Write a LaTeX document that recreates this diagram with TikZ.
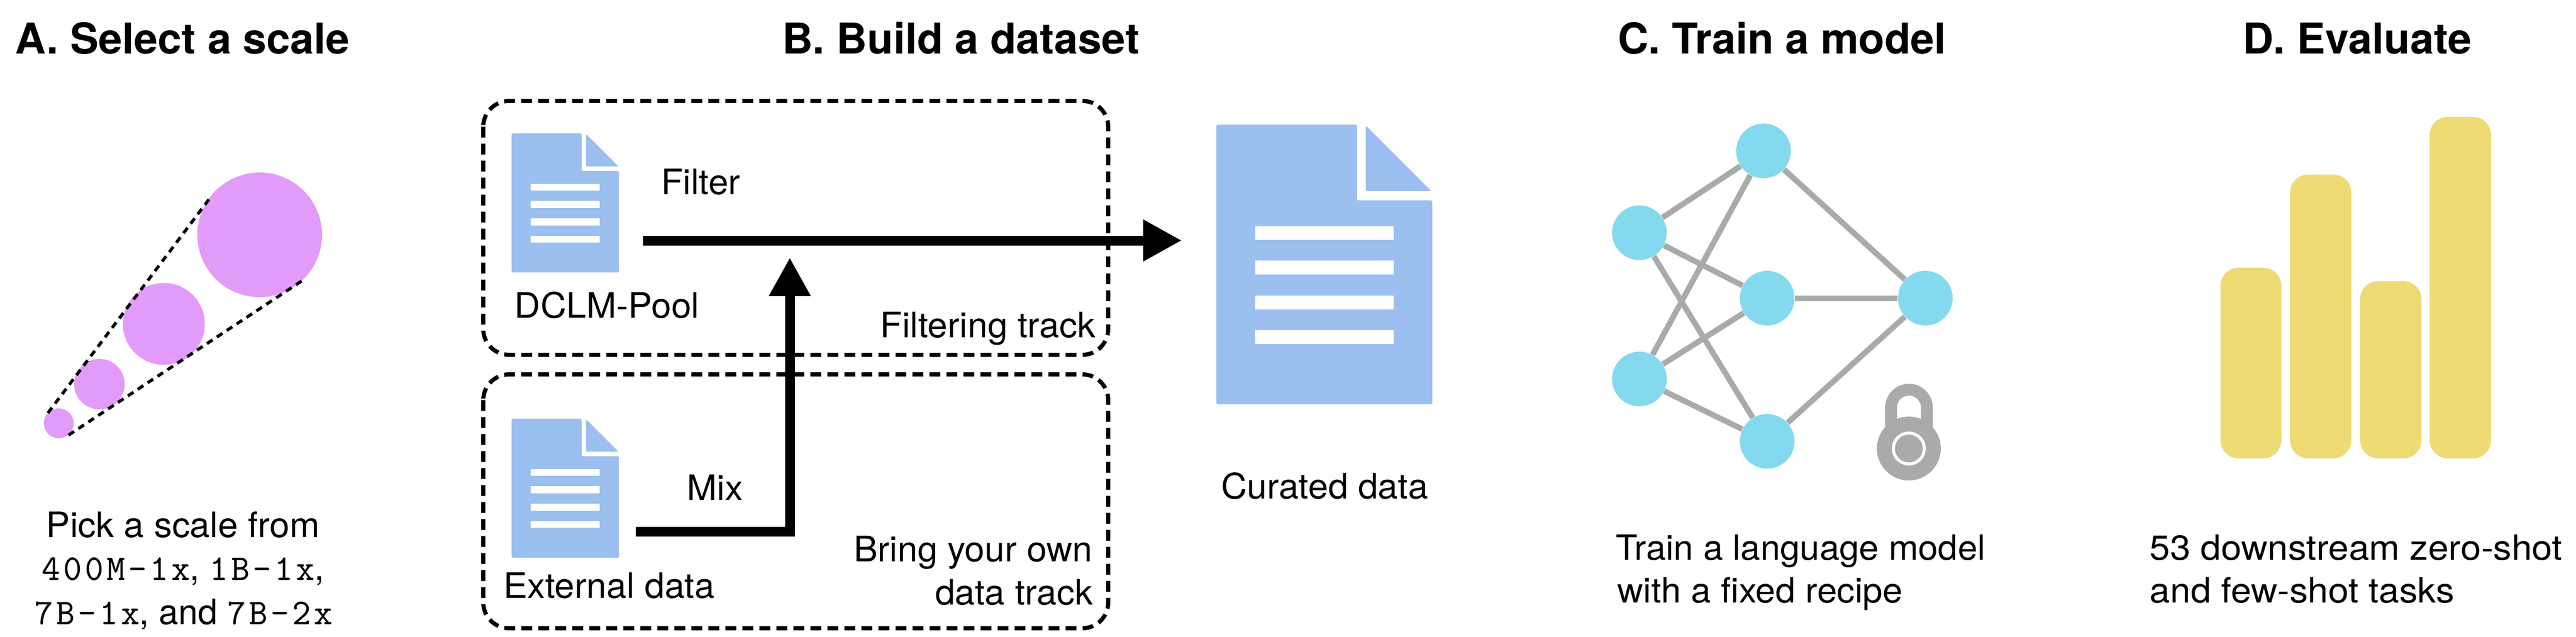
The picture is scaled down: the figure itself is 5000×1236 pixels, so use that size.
\documentclass[tikz,border=0pt]{standalone}
\usepackage{fontspec}
\usetikzlibrary{arrows.meta}
\setmainfont{TeX Gyre Heros}
\newfontfamily\codefont[LetterSpace=8.5,FakeBold=0.25]{Latin Modern Mono}
\definecolor{pinkc}{HTML}{E29BF9}
\definecolor{docc}{HTML}{9BBFEF}
\definecolor{netc}{HTML}{84D9EF}
\definecolor{edgec}{HTML}{AAAAAA}
\definecolor{barc}{HTML}{EEDB74}
\tikzset{
  x=0.01cm,y=-0.01cm,
  title/.style={anchor=base,inner sep=0,font=\fontsize{23.5}{26}\selectfont\bfseries},
  lab/.style={anchor=base,inner sep=0,xscale=1.025,font=\fontsize{19.35}{22}\selectfont},
  caplab/.style={anchor=base west,inner sep=0,font=\fontsize{19.2}{22}\selectfont},
  code/.style={anchor=base,inner sep=0,font=\fontsize{19.35}{22}\selectfont},
  dashedline/.style={draw=black,line width=0.06cm,dash pattern=on 0.13cm off 0.10cm},
  trackbox/.style={draw=black,line width=0.08cm,rounded corners=0.5cm,dash pattern=on 0.21cm off 0.12cm},
  scalec/.style={fill=pinkc,draw=none},
  netnode/.style={circle,fill=netc,draw=none,minimum size=1.06cm,inner sep=0},
  netedge/.style={draw=edgec,line width=0.11cm},
  flow/.style={draw=black,line width=0.19cm,-{Triangle[length=0.75cm,width=0.76cm]}},
  bar/.style={fill=barc,rounded corners=0.35cm},
  docfill/.style={fill=docc,rounded corners=0.03cm}
}
\newcommand{\cod}[1]{{\codefont\fontsize{19.9}{22}\selectfont #1}}
\newcommand{\docicon}[3]{% x, y, scale
  \begin{scope}[shift={(#1,#2)},scale=#3]
    \fill[docfill] (0,0) -- (273,0) -- (273,147) -- (419,147) -- (419,543) -- (0,543) -- cycle;
    \fill[docfill] (290,2) -- (417,129) -- (290,129) -- cycle;
    \fill[white] (75,197) rectangle (344,224);
    \fill[white] (75,264) rectangle (344,291);
    \fill[white] (75,332) rectangle (344,359);
    \fill[white] (75,399) rectangle (344,426);
  \end{scope}
}
\begin{document}
\begin{tikzpicture}
\useasboundingbox (0,0) rectangle (5000,1236);
% titles
\node[title] (ta) at (354,104) {A. Select a scale};
\node[title] (tb) at (1865,104) {B. Build a dataset};
\node[title] (tc) at (3459,104) {C. Train a model};
\node[title] (td) at (4575,104) {D. Evaluate};
% A
\fill[scalec] (504,456) circle[radius=121];
\fill[scalec] (318,629) circle[radius=79.5];
\fill[scalec] (193,746) circle[radius=49];
\fill[scalec] (114,822) circle[radius=29];
\coordinate (a1) at (93,802);
\coordinate (a2) at (408,384);
\coordinate (a3) at (133,845);
\coordinate (a4) at (588,544);
\draw[dashedline] (a1) -- (a2);
\draw[dashedline] (a3) -- (a4);
\node[lab] (pa) at (355,1043) {Pick a scale from};
\node[code] (pb) at (355,1126) {\cod{400M-1x}, \cod{1B-1x},};
\node[code] (pc) at (356,1212) {\cod{7B-1x}, and \cod{7B-2x}};
% B
\draw[trackbox] (938,196) rectangle (2151,689);
\draw[trackbox] (938,727) rectangle (2151,1220);
\docicon{993}{259}{0.4975}
\docicon{993}{813}{0.4975}
\docicon{2361}{242}{1}
\coordinate (fs) at (1248,467);
\coordinate (fe) at (2294,467);
\coordinate (ms) at (1234,1032);
\coordinate (me) at (1533,500);
\draw[flow] (fs) -- (fe);
\draw[flow] (ms) -| (me);
\node[lab] (lf) at (1360,377) {Filter};
\node[lab] (ld) at (1178,617) {DCLM-Pool};
\node[lab,anchor=base east] (lt) at (2127,655) {Filtering track};
\node[lab] (lm) at (1388,971) {Mix};
\node[lab] (le) at (1182,1161) {External data};
\node[lab,anchor=base east] (lb) at (2121,1090) {Bring your own};
\node[lab,anchor=base east] (lc) at (2122,1174) {data track};
\node[lab] (lu) at (2571,968) {Curated data};
% C
\node[netnode] (n1) at (3182,452) {};
\node[netnode] (n2) at (3182,736) {};
\node[netnode] (n3) at (3423,293) {};
\node[netnode] (n4) at (3430,579) {};
\node[netnode] (n5) at (3430,857) {};
\node[netnode] (n6) at (3737,579) {};
\foreach \u/\v in {n1/n3,n1/n4,n1/n5,n2/n3,n2/n4,n2/n5,n3/n6,n4/n6,n5/n6}
  \draw[netedge] (\u) -- (\v);
% lock
\draw[edgec,line width=0.23cm] (3670.5,880) -- (3670.5,791.5) arc[start angle=180,end angle=360,radius=34.75] -- (3740,880);
\fill[edgec] (3705,871) circle[radius=62];
\fill[white] (3705,871) circle[radius=33];
\fill[edgec] (3705,871) circle[radius=27];
\node[caplab,xscale=1.02] (tc1) at (3136,1087) {Train a language model};
\node[caplab,xscale=1.03] (tc2) at (3139,1170) {with a fixed recipe};
% D
\fill[bar] (4310,520) rectangle (4428,890);
\fill[bar] (4445,339) rectangle (4564,890);
\fill[bar] (4581,546) rectangle (4700,890);
\fill[bar] (4716,227) rectangle (4835,890);
\node[caplab,xscale=1.055] (td1) at (4172,1087) {53 downstream zero-shot};
\node[caplab,xscale=1.055] (td2) at (4172,1170) {and few-shot tasks};
\end{tikzpicture}
\end{document}
